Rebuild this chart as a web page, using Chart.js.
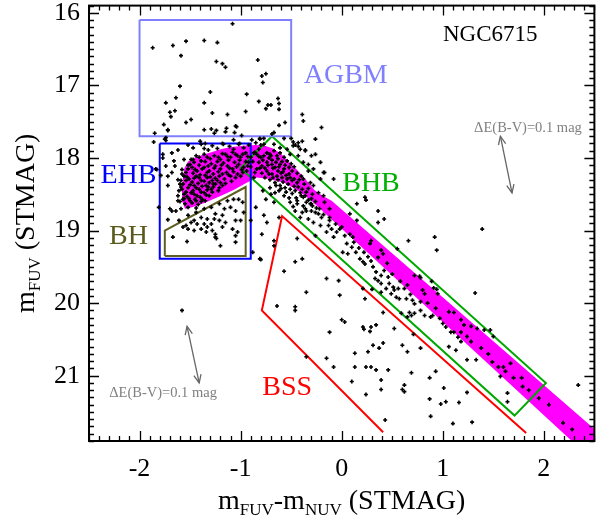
<!DOCTYPE html>
<html>
<head>
<meta charset="utf-8">
<script src="https://cdn.jsdelivr.net/npm/chart.js@4.4.1/dist/chart.umd.min.js"></script>
<style>
  html, body { margin: 0; padding: 0; background: #fff; }
  #cmd { display: block; }
</style>
</head>
<body>
<canvas id="cmd" width="600" height="518"></canvas>
<script>
// axis ticks
const xTicks = [-2, -1, 0, 1, 2];
const yTicks = [16, 17, 18, 19, 20, 21];

// stars: [FUV-NUV, FUV]
const starsAGBM = [[-1.08,16.15],[-1.87,16.48],[-1.67,16.45],[-1.54,16.39],[-1.36,16.38],[-1.23,16.41],[-1.59,16.59],[-1.24,16.67],[-1.18,16.70],[-1.15,16.75],[-0.83,16.65],[-0.79,16.87],[-0.75,16.84],[-0.78,16.96],[-1.60,17.01],[-1.30,17.09],[-0.94,17.12],[-1.64,17.17],[-1.74,17.24],[-1.36,17.24],[-0.82,17.22],[-0.63,17.18],[-0.73,17.27],[-0.70,17.27],[-0.75,17.32],[-0.62,17.25],[-0.62,17.33],[-1.70,17.37],[-1.65,17.35],[-1.69,17.43],[-1.28,17.38],[-0.95,17.36],[-1.13,17.40],[-1.49,17.47],[-1.54,17.51],[-1.76,17.54],[-0.62,17.55],[-1.72,17.61],[-1.36,17.61],[-1.29,17.60],[-1.24,17.62],[-1.26,17.66],[-1.14,17.59],[-1.04,17.57],[-1.15,17.64],[-1.85,17.66],[-0.39,17.40],[-0.38,17.49],[-0.26,17.74],[-1.74,17.72],[-1.74,17.76],[-1.86,17.78],[-1.40,17.77],[-1.35,17.80],[-1.18,17.80],[-1.07,17.75],[-1.02,17.81],[-0.89,17.75],[-0.81,17.73],[-0.77,17.73],[-0.69,17.67],[-0.67,17.65],[-0.57,17.73],[-0.50,17.73],[-0.48,17.78],[-0.46,17.82],[-0.43,17.84],[-0.36,17.89],[-1.06,17.65],[-0.99,17.69],[-1.05,17.56],[-0.56,17.51],[-0.20,17.58]];

const starsEHB = [[-1.72,17.62],[-1.75,17.74],[-1.62,17.89],[-1.68,17.93],[-1.77,18.00],[-1.66,18.04],[-1.56,18.02],[-1.74,18.11],[-1.65,18.11],[-1.58,18.16],[-1.68,18.20],[-1.79,18.24],[-1.72,18.25],[-1.62,18.30],[-1.60,18.36],[-1.72,18.38],[-1.83,18.16],[-1.52,17.82],[-1.47,17.86],[-1.39,17.81],[-1.36,17.87],[-1.32,17.89],[-1.28,17.83],[-1.23,17.87],[-1.17,17.81],[-1.11,17.84],[-1.07,17.88],[-1.01,17.80],[-0.97,17.86],[-0.92,17.82],[-0.87,17.93],[-0.80,17.82],[-0.81,17.74],[-1.77,17.95],[-1.84,18.15],[-1.81,18.68],
  [-1.49,18.02],[-1.44,17.97],[-1.39,18.04],[-1.33,17.99],[-1.26,17.97],[-1.20,18.02],[-1.15,17.95],[-1.10,17.99],[-1.05,17.95],[-1.00,17.99],[-0.95,17.93],[-0.90,17.99],[-1.52,18.15],[-1.48,18.13],[-1.43,18.18],[-1.36,18.13],[-1.31,18.18],[-1.25,18.11],[-1.20,18.15],[-1.13,18.11],[-1.08,18.15],[-1.02,18.09],[-0.97,18.13],[-0.92,18.06],[-1.56,18.25],[-1.51,18.29],[-1.44,18.25],[-1.39,18.31],[-1.33,18.27],[-1.28,18.31],[-1.21,18.25],[-1.16,18.29],[-1.10,18.25],[-1.03,18.22],[-0.98,18.20],[-0.94,18.18],[-1.57,18.36],[-1.52,18.41],[-1.46,18.38],[-1.41,18.43],[-1.34,18.38],[-1.29,18.43],[-1.25,18.36],[-1.18,18.38],[-1.56,18.50],[-1.49,18.48],[-1.43,18.52],[-1.36,18.48],[-1.31,18.52],[-1.57,18.57],[-1.51,18.56],[-1.44,18.59],[-1.38,18.57],[-1.61,18.45],[-1.62,18.52],
  [-1.46,18.06],[-1.41,18.10],[-1.35,18.05],[-1.29,18.08],[-1.23,18.05],[-1.17,18.07],[-1.12,18.03],[-1.06,18.06],[-1.01,18.03],[-0.95,18.05],[-1.54,18.20],[-1.47,18.21],[-1.40,18.23],[-1.33,18.20],[-1.27,18.22],[-1.22,18.19],[-1.14,18.20],[-1.07,18.19],[-1.54,18.31],[-1.48,18.33],[-1.42,18.35],[-1.36,18.32],[-1.31,18.34],[-1.23,18.31],[-1.20,18.34],[-1.58,18.43],[-1.54,18.47],[-1.47,18.45],[-1.39,18.47],[-1.33,18.44],[-1.27,18.40],[-1.60,18.60],[-1.55,18.63],[-1.48,18.62],[-1.42,18.64],[-1.35,18.59],[-1.44,18.69],[-1.52,18.68],
  [-1.50,18.09],[-1.45,18.16],[-1.38,18.15],[-1.32,18.11],[-1.26,18.14],[-1.19,18.10],[-1.11,18.14],[-1.04,18.12],[-0.99,18.16],[-0.93,18.11],[-1.53,18.26],[-1.46,18.28],[-1.41,18.27],[-1.35,18.24],[-1.30,18.26],[-1.25,18.28],[-1.18,18.22],[-1.12,18.23],[-1.05,18.27],[-1.00,18.25],[-1.50,18.37],[-1.44,18.41],[-1.38,18.39],[-1.32,18.40],[-1.27,18.36],[-1.21,18.41],[-1.15,18.35],[-1.09,18.32],[-1.53,18.53],[-1.46,18.50],[-1.40,18.54],[-1.34,18.51],[-1.28,18.47],[-1.22,18.45],[-1.59,18.40],[-1.56,18.56],[-1.50,18.59],[-1.45,18.57],[-1.39,18.60],[-1.41,17.99],[-1.36,17.95],[-1.30,18.01],[-1.22,17.99],[-1.18,17.94],[-1.13,17.98],[-1.08,17.92],[-1.03,17.97],[-0.98,17.95],[-0.93,17.98],[-1.47,18.02],[-1.52,18.10],[-1.58,18.22],[-1.59,18.31]];

const starsBH = [[-1.62,18.59],[-1.70,18.70],[-1.68,18.73],[-1.64,18.73],[-1.59,18.70],[-1.72,18.85],[-1.61,18.86],[-1.52,18.79],[-1.44,18.75],[-1.36,18.70],[-1.29,18.68],[-1.21,18.63],[-1.13,18.59],[-1.07,18.57],[-1.02,18.57],[-0.98,18.61],[-1.10,18.68],[-1.05,18.73],[-0.97,18.75],[-1.16,18.70],[-1.25,18.77],[-1.18,18.79],[-1.21,18.86],[-1.15,18.89],[-1.26,18.84],[-1.33,18.84],[-1.39,18.82],[-1.46,18.86],[-1.49,18.89],[-1.43,18.91],[-1.36,18.91],[-1.29,18.91],[-1.33,18.95],[-1.39,18.98],[-1.46,19.00],[-1.52,18.98],[-1.57,18.95],[-1.54,18.93],[-1.18,18.95],[-1.08,18.98],[-1.03,19.02],[-1.00,18.86],[-1.05,18.86],[-1.28,19.00],[-1.25,19.05],[-1.34,19.02],[-1.25,19.09],[-1.24,19.11],[-1.05,19.07],[-1.05,19.16],[-1.67,19.09],[-1.53,19.15],[-1.20,19.21],[-0.88,19.30],[-0.81,19.39],[-0.90,18.86],[-0.79,19.05],[-0.85,18.68],[-1.58,20.10]];

const starsKnee = [[-0.43,17.79],[-0.39,17.77],[-0.48,17.83],[-0.41,17.88],[-0.36,17.90],[-0.30,17.97],[-0.26,17.95],[-0.21,18.06],[-0.43,17.97],[-0.38,18.06],[-0.33,18.09],[-0.28,18.15],[-0.33,18.18],[-0.21,18.29],[-0.18,18.20],[-0.08,18.29],[-0.38,18.29],
  [-0.84,17.95],[-0.80,17.99],[-0.77,17.97],[-0.74,17.93],[-0.71,17.95],[-0.67,17.90],[-0.64,17.97],[-0.61,17.93],[-0.57,17.99],[-0.54,18.04],[-0.82,18.06],[-0.79,18.11],[-0.74,18.06],[-0.69,18.09],[-0.66,18.13],[-0.61,18.09],[-0.57,18.15],[-0.52,18.13],[-0.49,18.18],[-0.74,18.18],[-0.69,18.22],[-0.64,18.25],[-0.59,18.27],[-0.54,18.29],[-0.49,18.31],[-0.44,18.34],[-0.66,18.34],[-0.61,18.38],[-0.56,18.41],[-0.51,18.43],[-0.46,18.45],[-0.41,18.48],[-0.38,18.54],[-0.44,18.59],[-0.35,18.61],[-0.30,18.63],[-0.25,18.69],[-0.30,18.73],[-0.36,18.70],[-0.48,18.67],[-0.57,18.52],[-0.66,18.48],[-0.71,18.41],[-0.67,18.61],[-0.75,18.57],[-0.62,18.82],[-0.84,18.15],[-0.87,18.27],[-0.82,17.88],[-0.85,17.79],[-0.77,17.81],[-0.67,17.81],[-0.61,17.86],[-0.54,17.88],[-0.51,17.95],[-0.17,18.61],[-0.12,18.70],[-0.23,18.77],[-0.20,18.82],[-0.12,18.82],[-0.28,18.38],[-0.23,18.48],[-0.18,18.52],[-0.31,18.34],
  [-0.72,18.00],[-0.69,18.03],[-0.63,18.01],[-0.59,18.05],[-0.56,18.10],[-0.50,18.08],[-0.47,18.12],[-0.44,18.21],[-0.40,18.25],[-0.37,18.36],[-0.33,18.42],[-0.29,18.50],[-0.52,18.22],[-0.58,18.33],[-0.47,18.39],[-0.42,18.30],[-0.35,18.47],[-0.30,18.56],[-0.40,18.52],[-0.26,18.60],[-0.88,18.05],[-0.90,18.12],[-0.86,18.20],[-0.79,18.21],[-0.76,18.27],[-0.71,18.30],[-0.65,18.38],[-0.62,18.45],[-0.70,18.50],[-0.78,18.45],[-0.77,18.79],[-0.74,18.89],[-0.67,19.14],[-0.67,19.21],[-0.80,19.40],[-0.57,19.56],[-0.17,18.20],
  [-0.86,17.92],[-0.82,17.98],[-0.78,18.03],[-0.73,18.10],[-0.68,18.14],[-0.63,18.18],[-0.60,18.21],[-0.55,18.24],[-0.51,18.27],[-0.47,18.29],[-0.43,18.40],[-0.39,18.43],[-0.36,18.52],[-0.33,18.58],[-0.29,18.66],[-0.70,17.97],[-0.65,18.06],[-0.62,18.12],[-0.58,18.19],[-0.53,18.36],[-0.49,18.49],[-0.45,18.55],[-0.81,18.14],[-0.76,18.14],[-0.72,18.22],[-0.68,18.27],[-0.63,18.30],[-0.60,18.42],[-0.55,18.47],[-0.52,18.55]];

const starsBand = [[-0.51,18.61],[-0.44,18.63],[-0.38,18.66],[-0.31,18.63],[-0.46,18.73],[-0.39,18.75],[-0.35,18.73],[-0.26,18.75],[-0.41,18.82],[-0.33,18.84],[-0.28,18.89],[-0.21,18.93],[-0.13,18.93],[-0.10,18.98],[-0.05,19.02],[-0.02,18.98],[-0.15,19.02],[-0.08,19.09],[-0.26,19.07],[0.08,19.05],[0.11,19.09],[0.05,19.18],[0.10,19.23],[0.29,19.14],[0.28,19.18],[0.01,19.30],[0.06,19.32],[0.18,19.39],[0.21,19.43],[0.39,19.27],[0.41,19.32],[0.42,19.55],[0.33,19.66],[0.36,19.69],[0.39,19.73],[0.47,19.73],[0.51,19.78],[0.52,19.82],[0.56,19.80],[0.44,19.80],[0.49,19.87],[0.54,19.92],[0.57,19.94],[0.62,19.80],[0.64,19.94],[0.70,19.96],[0.72,20.01],[0.78,19.98],[0.80,19.82],[0.82,19.87],[0.78,20.10],[0.69,20.17],[0.72,20.14],[0.65,20.19],[0.59,20.14],[0.90,20.17],[0.36,18.89],[0.42,18.84],[0.36,18.73],[0.08,18.77],[0.15,18.86],[0.15,18.63],[-0.44,19.11],[0.36,19.37],[0.23,19.46],[0.31,19.50],[0.34,19.57],[0.46,19.64],[0.39,19.62],
  [0.23,18.54],[0.24,18.58],[0.21,19.80],[0.30,19.81],[0.39,19.85],[0.77,19.63],[0.89,19.70],[0.94,19.81],[0.95,19.87],[0.67,20.13],[0.82,20.17],[0.88,20.19],[0.97,20.21],[1.06,20.12],[1.11,20.13],[1.34,20.35],[1.41,20.37],[1.08,20.40],[1.11,20.40],[1.18,20.40],[1.24,20.46],[1.28,20.53],[1.18,20.53],[1.06,20.60],[1.13,20.65],[1.24,20.78],[1.33,20.78],[1.49,20.81],[1.55,20.88],[1.60,20.88],[1.67,20.83],[1.57,21.01],[1.70,21.03],[1.78,21.03],[1.79,21.15],[2.05,21.40],[2.19,21.65],[2.28,21.74],[0.71,20.43],[0.78,20.62],[0.72,19.62],[0.78,19.65],[0.91,19.79],[1.18,20.23],[1.21,20.30],[1.28,20.32],[1.47,20.37],[1.50,20.46],
  [-0.22,18.70],[-0.18,18.78],[-0.12,18.86],[-0.06,18.91],[0.00,18.95],[0.03,19.07],[0.12,19.16],[0.17,19.24],[0.22,19.30],[0.26,19.36],[0.14,19.30],[0.29,19.42],[0.45,19.45],[0.50,19.60],[0.58,19.70],[0.65,19.75],[0.68,19.88],[0.85,20.00],[0.93,20.07],[1.00,20.28],[1.03,20.33],[1.15,20.47],[1.38,20.62],[1.45,20.70],[1.62,20.94],[1.85,21.20],[1.95,21.31]];

const starsField = [[0.66,19.14],[0.92,19.09],[0.94,19.27],[1.39,18.98],[0.55,19.25],[-0.46,19.43],[-0.39,19.39],[-0.15,19.66],[-0.03,19.69],[-0.35,19.85],[-0.02,19.89],[0.23,19.94],[-0.46,20.05],[-0.46,20.10],[0.00,20.23],[0.21,20.33],[0.29,20.33],[0.34,20.30],[0.52,20.35],[1.32,19.86],[0.28,20.39],[-0.12,20.40],[0.03,20.26],[0.31,20.58],[0.41,20.55],[0.60,20.58],[0.65,20.67],[0.13,20.69],[-0.35,20.74],[-0.15,20.76],[-0.08,20.88],[0.13,20.88],[0.24,20.88],[0.29,20.88],[0.34,20.92],[0.46,20.92],[0.69,20.96],[0.87,21.03],[0.93,20.94],[0.39,21.06],[0.62,21.13],[0.39,21.19],[0.60,21.19],[0.24,21.26],[0.87,21.32],[0.98,21.39],[1.03,21.36],[1.16,21.37],[1.24,21.23],[0.88,21.56],[1.10,21.66],[1.29,21.64],[0.43,21.61],[0.10,21.08],[0.62,21.22],[1.01,21.17],[1.64,21.24],[1.64,21.36],[2.34,21.13],[-0.64,20.04],[0.22,20.36],[0.26,20.67],[0.37,20.62],[0.41,20.13]];

// HB ridge band (outline, colour vs magnitude)
const hbRidge = [[-1.57,18.29],[-1.56,18.15],[-1.52,18.05],[-1.46,18.00],[-1.38,17.96],[-1.29,17.92],[-1.19,17.875],[-1.09,17.85],[-0.97,17.83],[-0.85,17.82],[-0.76,17.83],[-0.68,17.87],[-0.60,17.94],[-0.53,18.04],[-0.45,18.15],[-0.36,18.29],[-0.27,18.44],[-0.19,18.52],[-0.10,18.59],[2.96,22.29],
  [2.58,22.29],[-0.30,18.59],[-0.43,18.45],[-0.57,18.34],[-0.72,18.29],[-0.84,18.27],[-0.94,18.34],[-1.07,18.44],[-1.21,18.53],[-1.36,18.62],[-1.48,18.68],[-1.55,18.70],[-1.58,18.59],[-1.58,18.42],[-1.57,18.29]];

// selection boxes
const boxAGBM = [[-2.0,16.1],[-0.5,16.1],[-0.5,17.7],[-2.0,17.7],[-2.0,16.1]];
const boxEHB = [[-1.8,17.8],[-0.9,17.8],[-0.9,19.39],[-1.8,19.39],[-1.8,17.8]];
const boxBH = [[-1.75,19.35],[-1.75,19.0],[-0.95,18.4],[-0.95,19.35],[-1.75,19.35]];
const boxBHB = [[-0.69,17.7],[2.02,21.1],[1.71,21.55],[-1.0,18.14],[-0.69,17.7]];
const boxBSS = [[0.41,21.78],[-0.79,20.1],[-0.59,18.8],[1.825,21.79]];

// reddening vectors dE(B-V)=0.1
const redArrows = [[1.57,17.70,1.685,18.48],[-1.53,20.32,-1.41,21.10]];

const labels = [
  {text: 'AGBM', x: 0.04, y: 16.86, color: '#8080ff', size: 28},
  {text: 'EHB', x: -2.11, y: 18.25, color: '#0000ff', size: 28},
  {text: 'BH', x: -2.11, y: 19.08, color: '#5a5a1c', size: 28},
  {text: 'BHB', x: 0.29, y: 18.36, color: '#00b000', size: 28},
  {text: 'BSS', x: -0.54, y: 21.17, color: '#ff0000', size: 28},
  {text: 'NGC6715', x: 1.47, y: 16.30, color: '#000000', size: 23}
];
const redLabels = [[1.31,17.59],[-2.30,21.24]];

const pts = a => a.map(([x, y]) => ({x, y}));
const serif = '"Liberation Serif", "Times New Roman", serif';

function outline(data, color, order) {
  return {type: 'line', data: pts(data), borderColor: color, borderWidth: 2,
    pointRadius: 0, fill: false, tension: 0, order: order};
}

function drawRuns(ctx, runs, cx, baseY, size) {
  // runs: [text, isSub]
  const subSize = Math.round(size * 0.62);
  let w = 0;
  runs.forEach(([t, sub]) => {
    ctx.font = (sub ? subSize : size) + 'px ' + serif;
    w += ctx.measureText(t).width;
  });
  let x = cx - w / 2;
  ctx.textAlign = 'left';
  ctx.textBaseline = 'alphabetic';
  runs.forEach(([t, sub]) => {
    ctx.font = (sub ? subSize : size) + 'px ' + serif;
    ctx.fillText(t, x, baseY + (sub ? size * 0.22 : 0));
    x += ctx.measureText(t).width;
  });
}

function arrowHead(ctx, x1, y1, x2, y2) {
  const a = Math.atan2(y2 - y1, x2 - x1);
  const L = 9, s = 0.42;
  ctx.beginPath();
  ctx.moveTo(x2 - L * Math.cos(a - s), y2 - L * Math.sin(a - s));
  ctx.lineTo(x2, y2);
  ctx.lineTo(x2 - L * Math.cos(a + s), y2 - L * Math.sin(a + s));
  ctx.stroke();
}

const overlay = {
  id: 'overlay',
  afterDraw(chart) {
    const {ctx, chartArea: a, scales: {x, y}} = chart;
    ctx.save();

    // reddening arrows
    ctx.strokeStyle = '#666666';
    ctx.lineWidth = 1.3;
    redArrows.forEach(([ax, ay, bx, by]) => {
      const x1 = x.getPixelForValue(ax), y1 = y.getPixelForValue(ay);
      const x2 = x.getPixelForValue(bx), y2 = y.getPixelForValue(by);
      ctx.beginPath();
      ctx.moveTo(x1, y1);
      ctx.lineTo(x2, y2);
      ctx.stroke();
      arrowHead(ctx, x1, y1, x2, y2);
      arrowHead(ctx, x2, y2, x1, y1);
    });
    ctx.fillStyle = '#808080';
    ctx.font = '14.5px ' + serif;
    ctx.textAlign = 'left';
    ctx.textBaseline = 'middle';
    redLabels.forEach(([lx, ly]) => {
      ctx.fillText('\u0394E(B-V)=0.1 mag', x.getPixelForValue(lx), y.getPixelForValue(ly));
    });

    // region labels
    ctx.textAlign = 'center';
    labels.forEach(l => {
      ctx.fillStyle = l.color;
      ctx.font = l.size + 'px ' + serif;
      ctx.fillText(l.text, x.getPixelForValue(l.x), y.getPixelForValue(l.y));
    });

    // frame and inward ticks
    ctx.strokeStyle = '#000';
    ctx.lineWidth = 2;
    ctx.strokeRect(a.left, a.top, a.right - a.left, a.bottom - a.top);
    ctx.lineWidth = 1.3;
    ctx.beginPath();
    for (let i = -25; i <= 25; i++) {
      const px = Math.round(x.getPixelForValue(i / 10)) + 0.5;
      const len = i % 10 === 0 ? 10 : 5;
      ctx.moveTo(px, a.bottom); ctx.lineTo(px, a.bottom - len);
      ctx.moveTo(px, a.top); ctx.lineTo(px, a.top + len);
    }
    for (let i = 159; i <= 219; i++) {
      const py = Math.round(y.getPixelForValue(i / 10)) + 0.5;
      const len = i % 10 === 0 ? 10 : 5;
      ctx.moveTo(a.left, py); ctx.lineTo(a.left + len, py);
      ctx.moveTo(a.right, py); ctx.lineTo(a.right - len, py);
    }
    ctx.stroke();

    // axis titles with subscripts
    ctx.fillStyle = '#000';
    drawRuns(ctx, [['m', 0], ['FUV', 1], ['-m', 0], ['NUV', 1], [' (STMAG)', 0]],
      (a.left + a.right) / 2, 509, 28);
    ctx.save();
    ctx.translate(34, (a.top + a.bottom) / 2);
    ctx.rotate(-Math.PI / 2);
    drawRuns(ctx, [['m', 0], ['FUV', 1], [' (STMAG)', 0]], 0, 0, 28);
    ctx.restore();

    ctx.restore();
  }
};

const allStars = [].concat(starsAGBM, starsEHB, starsBH, starsKnee, starsBand, starsField);

new Chart(document.getElementById('cmd'), {
  type: 'scatter',
  data: {
    datasets: [
      {type: 'scatter', data: pts(allStars), pointStyle: 'cross', pointRadius: 2,
        borderColor: '#000', borderWidth: 1.6, backgroundColor: '#000', order: 0},
      outline(boxAGBM, '#8080ff', 1),
      outline(boxEHB, '#0000ff', 1),
      outline(boxBH, '#5e5e22', 1),
      outline(boxBHB, '#00a800', 1),
      outline(boxBSS, '#ff0000', 1),
      {type: 'line', data: pts(hbRidge), backgroundColor: '#ff00ff', borderColor: '#ff00ff',
        borderWidth: 0, pointRadius: 0, tension: 0, fill: 'shape', order: 5}
    ]
  },
  options: {
    responsive: false,
    animation: false,
    layout: {padding: {top: 4, right: 2, left: 0, bottom: 0}},
    plugins: {legend: {display: false}, tooltip: {enabled: false}},
    scales: {
      x: {
        type: 'linear', min: -2.5, max: 2.5,
        grid: {display: false, drawTicks: false},
        border: {display: false},
        ticks: {color: '#000', font: {family: serif, size: 26}, padding: 13,
          callback: v => String(Math.round(v))},
        afterBuildTicks: s => { s.ticks = xTicks.map(v => ({value: v})); },
        afterFit: s => { s.height = 77; s.paddingLeft = 0; s.paddingRight = 0; }
      },
      y: {
        type: 'linear', min: 15.9, max: 21.9, reverse: true,
        grid: {display: false, drawTicks: false},
        border: {display: false},
        ticks: {color: '#000', font: {family: serif, size: 26}, padding: 9,
          callback: v => String(Math.round(v))},
        afterBuildTicks: s => { s.ticks = yTicks.map(v => ({value: v})); },
        afterFit: s => { s.width = 89; s.paddingTop = 0; s.paddingBottom = 0; }
      }
    }
  },
  plugins: [overlay]
});
</script>
</body>
</html>
